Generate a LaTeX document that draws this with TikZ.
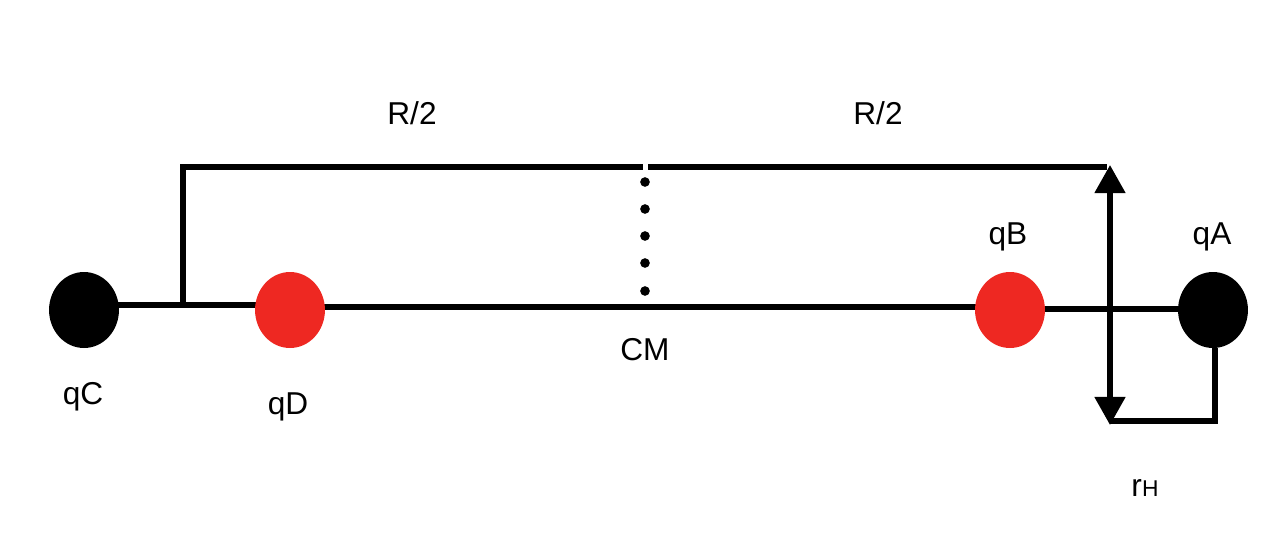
\documentclass[tikz,border=0pt]{standalone}
\usepackage{fontspec}
\setmainfont{Liberation Sans}
\usetikzlibrary{arrows.meta}
\begin{document}
\begin{tikzpicture}[x=0.02cm,y=-0.02cm,
  ln/.style={line width=3.1pt},
  blk/.style={fill=black,circle,inner sep=0pt,minimum size=1.52cm,xscale=0.92},
  red/.style={fill=qred,circle,inner sep=0pt,minimum size=1.52cm,xscale=0.92},
  lab/.style={font=\fontsize{18}{21}\selectfont},
  dot/.style={fill=black,circle,inner sep=0pt,minimum size=5.5pt}]
\definecolor{qred}{RGB}{238,40,34}
\useasboundingbox (0,0) rectangle (1286,556);
\draw[ln] (118,305) -- (290,305);
\draw[ln] (290,307) -- (1010,307);
\draw[ln] (1010,309) -- (1213,309);
\node[blk] (qC) at (84,310) {};
\node[red] (qD) at (290,310) {};
\node[red] (qB) at (1010,310) {};
\node[blk] (qA) at (1213,310) {};
\coordinate (b1) at (183,305);
\coordinate (b2) at (183,167);
\coordinate (g1) at (643,167);
\coordinate (g2) at (648,167);
\coordinate (b3) at (1107,167);
\draw[ln] (b1) -- (b2) -- (g1);
\draw[ln] (g2) -- (b3);
\foreach \y [count=\i] in {182,209,236,263,291} \node[dot] (d\i) at (645,\y) {};
\coordinate (at) at (1110,165);
\coordinate (ab) at (1110,425);
\draw[ln,{Triangle[length=16pt,width=17pt]}-{Triangle[length=16pt,width=17pt]}] (at) -- (ab);
\coordinate (c1) at (1110,421);
\coordinate (c2) at (1215,421);
\draw[ln] (c1) -- (c2) -- (c2 |- qA.south);
\node[lab] (l1) at (412,113) {R/2};
\node[lab] (l2) at (878,113) {R/2};
\node[lab] (cm) at (645,350) {CM};
\node[lab] (lB) at (1008,237) {qB};
\node[lab] (lA) at (1212,237) {qA};
\node[lab] (lC) at (83,397) {qC};
\node[lab] (lD) at (288,407) {qD};
\node[lab] (lH) at (1145,488) {r{\fontsize{13}{15}\selectfont H}};
\end{tikzpicture}
\end{document}
